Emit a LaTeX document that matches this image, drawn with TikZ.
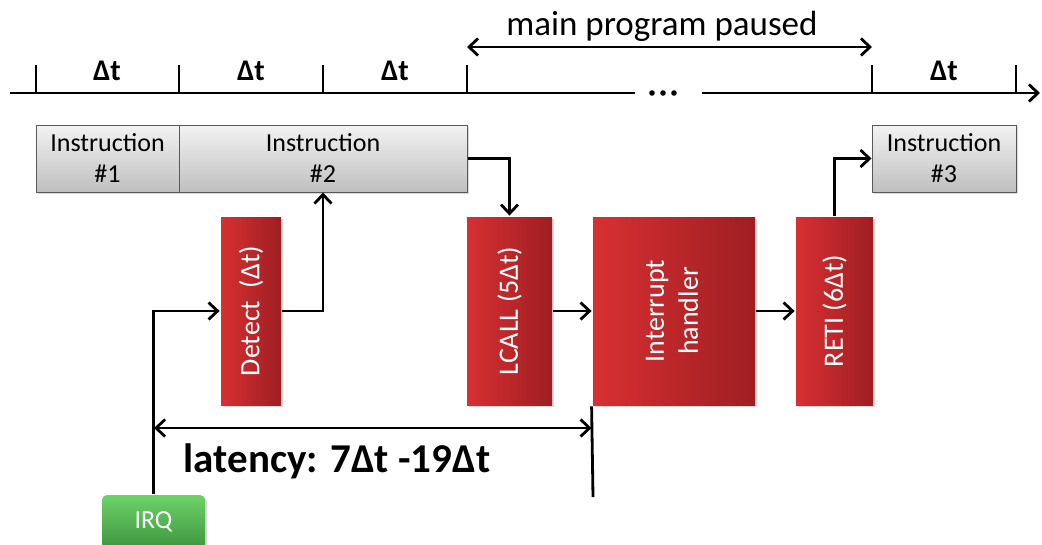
\documentclass[tikz,border=0pt]{standalone}
\usepackage{fontspec}
\setmainfont{Carlito}
\usetikzlibrary{arrows.meta,shadows}
\definecolor{redL}{RGB}{216,48,50}
\definecolor{redR}{RGB}{158,30,34}
\definecolor{grnT}{RGB}{108,210,104}
\definecolor{grnB}{RGB}{62,150,62}

\begin{document}
\begin{tikzpicture}[x=1pt,y=-1pt,line width=2.8pt,
  >={Straight Barb[length=9pt,width=17pt]},
  shade/.style={drop shadow={opacity=.3,shadow xshift=2pt,shadow yshift=-2pt}},
  instr/.style={shade,draw=black!65,line width=1pt,top color=black!5,bottom color=black!25,
    minimum height=67pt,inner sep=0pt,align=center,font=\fontsize{26}{31}\selectfont},
  stage/.style={shade,left color=redL,right color=redR,minimum height=188pt,inner sep=0pt,
    text=white,font=\fontsize{28}{34}\selectfont},
  irqbox/.style={shade,rounded corners=5pt,top color=grnT,bottom color=grnB,minimum width=103pt,
    minimum height=54pt,text=white,font=\fontsize{26}{30}\selectfont},
  dt/.style={font=\bfseries\fontsize{30}{30}\selectfont}]
\useasboundingbox (0,0) rectangle (1042,544);

\draw (10,93) -- (635,93);
\draw[->] (702,93) -- (1040,93);
\foreach \x in {652,663,674} \fill (\x,93) circle (2.8);
\foreach \x in {36,179,323,467,872,1016} \draw (\x,65) -- (\x,93);
\foreach \x/\n in {107/1,251/2,395/3,944/4} \node[dt] (dt\n) at (\x,71) {Δt};
\node[font=\fontsize{35}{35}\selectfont] (paused) at (662,26) {main program paused};
\draw[<->] (467,47) -- (872,47);

\node[instr,minimum width=143pt] (I1) at (107.5,158.5) {Instruction\\\#1};
\node[instr,minimum width=288pt] (I2) at (323,158.5) {Instruction\\\#2};
\node[instr,minimum width=144pt] (I3) at (944,158.5) {Instruction\\\#3};

\node[stage,minimum width=60pt] (det) at (251,311) {\rotatebox{90}{Detect\ \ (Δt)}};
\node[stage,minimum width=85pt] (lcall) at (509.5,311) {\rotatebox{90}{LCALL (5Δt)}};
\node[stage,minimum width=162pt] (hand) at (674,311)
  {\rotatebox{90}{\begin{tabular}{@{}c@{}}Interrupt\\handler\end{tabular}}};
\node[stage,minimum width=77pt] (reti) at (834.5,311) {\rotatebox{90}{RETI (6Δt)}};
\node[irqbox] (irq) at (153.5,522) {IRQ};

\draw[->] (irq.north) |- (det.west);
\draw[->] (det.east) -| (I2.south);
\draw[->] (I2.east) -| (lcall.north);
\draw[->] (lcall.east) -- (hand.west);
\draw[->] (hand.east) -- (reti.west);
\draw[->] (reti.north) |- (I3.west);

\coordinate (latL) at (154,428);
\coordinate (latEnd) at (593,497);
\draw[<->] (latL) -- (latL -| hand.west);
\draw (hand.south west) -- (latEnd);
\node[font=\bfseries\fontsize{41}{41}\selectfont] (lat) at (337,461) {latency: 7Δt -19Δt};
\end{tikzpicture}
\end{document}
